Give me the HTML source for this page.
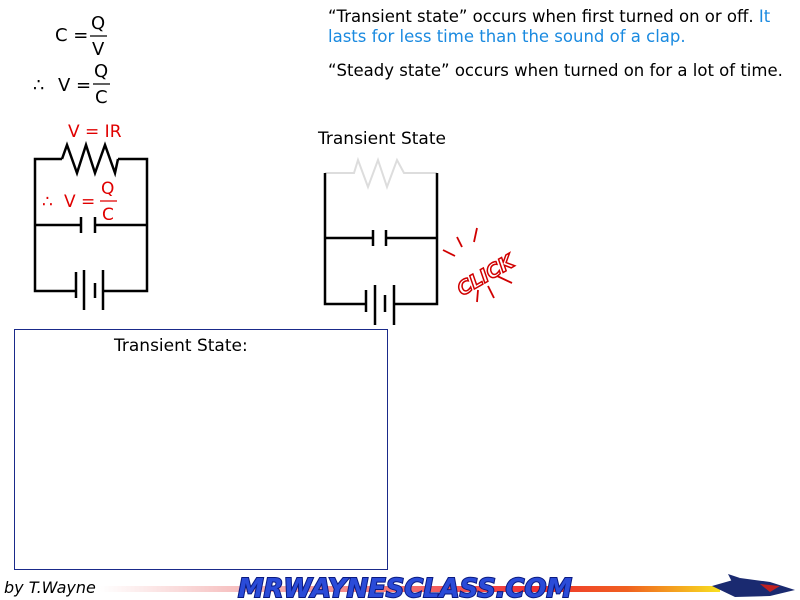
<!DOCTYPE html>
<html><head><style>
body{margin:0;width:800px;height:600px;overflow:hidden;background:#fff;font-family:"DejaVu Sans","Liberation Sans",sans-serif;}
</style></head><body>
<svg width="800" height="600" viewBox="0 0 800 600" xmlns="http://www.w3.org/2000/svg" style="position:absolute;left:0;top:0">
<defs>
<linearGradient id="bar" x1="0" x2="1">
<stop offset="0" stop-color="#fff"/><stop offset="0.2" stop-color="#f7c6c6"/><stop offset="0.7" stop-color="#f03030"/><stop offset="0.85" stop-color="#f06020"/><stop offset="1" stop-color="#f8e020"/></linearGradient>
</defs>
<g font-size="18" fill="#000">
<text x="55" y="41">C =</text>
<text x="91" y="29">Q</text><line x1="90" y1="36" x2="107" y2="36" stroke="#000" stroke-width="1.3"/><text x="92" y="55">V</text>
<text x="33" y="91">∴</text><text x="58" y="91">V =</text>
<text x="94" y="77">Q</text><line x1="93" y1="84" x2="110" y2="84" stroke="#000" stroke-width="1.3"/><text x="95" y="103">C</text>
</g>
<g font-size="17" fill="#e00000">
<text x="68" y="137">V = IR</text>
<text x="42" y="207">∴</text><text x="64" y="207">V =</text>
<text x="101" y="194">Q</text><line x1="100" y1="201" x2="117" y2="201" stroke="#e00000" stroke-width="1.3"/><text x="102" y="220">C</text>
</g>
<g stroke="#000" stroke-width="2.5" fill="none">
<polyline points="62,159 35,159 35,291 75,291"/>
<polyline points="118,159 147,159 147,291 103,291"/>
<polyline points="62,159 67,145 77,173 86,145 95,173 105,145 115,173 118,159"/>
<line x1="35" y1="225" x2="81" y2="225"/><line x1="95" y1="225" x2="147" y2="225"/>
<line x1="81" y1="217" x2="81" y2="233"/><line x1="95" y1="217" x2="95" y2="233"/>
<line x1="76" y1="272" x2="76" y2="298"/><line x1="84" y1="270" x2="84" y2="310"/>
<line x1="95" y1="283" x2="95" y2="298"/><line x1="103" y1="270" x2="103" y2="310"/>
</g>
<text x="318" y="144" font-size="17">Transient State</text>
<g stroke="#ddd" stroke-width="2" fill="none">
<polyline points="325,173 354,173 358,160 368,187 378,160 387,187 397,160 404,173 437,173"/>
</g>
<g stroke="#000" stroke-width="2.5" fill="none">
<polyline points="325,173 325,304 366,304"/>
<polyline points="437,173 437,304 394,304"/>
<line x1="325" y1="238" x2="373" y2="238"/><line x1="386" y1="238" x2="437" y2="238"/>
<line x1="373" y1="230" x2="373" y2="246"/><line x1="386" y1="230" x2="386" y2="246"/>
<line x1="366" y1="290" x2="366" y2="312"/><line x1="375" y1="285" x2="375" y2="325"/>
<line x1="385" y1="295" x2="385" y2="312"/><line x1="394" y1="285" x2="394" y2="325"/>
</g>
<g stroke="#d00000" stroke-width="1.8">
<line x1="443" y1="250" x2="455" y2="256"/><line x1="457" y1="237" x2="462" y2="247"/><line x1="477" y1="228" x2="474" y2="242"/>
<line x1="495" y1="275" x2="512" y2="283"/><line x1="478" y1="290" x2="477" y2="302"/><line x1="488" y1="286" x2="494" y2="298"/>
</g>
<text x="452" y="285" font-size="19" font-weight="bold" font-style="italic" fill="#fff" stroke="#d00000" stroke-width="1.5" transform="rotate(-30 478 272)">CLICK</text>
<rect x="14.5" y="329.5" width="373" height="240" fill="none" stroke="#1a2a8a" stroke-width="1"/>
<text x="114" y="351" font-size="17">Transient State:</text>
<g font-size="16.5">
<text x="328" y="22">“Transient state” occurs when first turned on or off. <tspan fill="#1a8ae0">It</tspan></text>
<text x="328" y="42" fill="#1a8ae0">lasts for less time than the sound of a clap.</text>
<text x="328" y="76">“Steady state” occurs when turned on for a lot of time.</text>
</g>
<rect x="100" y="586" width="620" height="6" fill="url(#bar)"/>
<text x="4" y="593" font-size="16" font-style="italic">by T.Wayne</text>
<text x="238" y="597" font-size="26" font-weight="bold" font-style="italic" fill="#2a4bd8" stroke="#0a1a80" stroke-width="2" paint-order="stroke" textLength="334" lengthAdjust="spacingAndGlyphs">MRWAYNESCLASS.COM</text>
<path d="M712,586 L740,578 L770,582 L795,590 L770,596 L735,597 Z" fill="#1a2a70"/>
<path d="M728,574 L740,578 L732,582 Z" fill="#1a2a70"/>
<path d="M760,584 L780,586 L770,592 Z" fill="#c02020"/>
</svg>
</body></html>
